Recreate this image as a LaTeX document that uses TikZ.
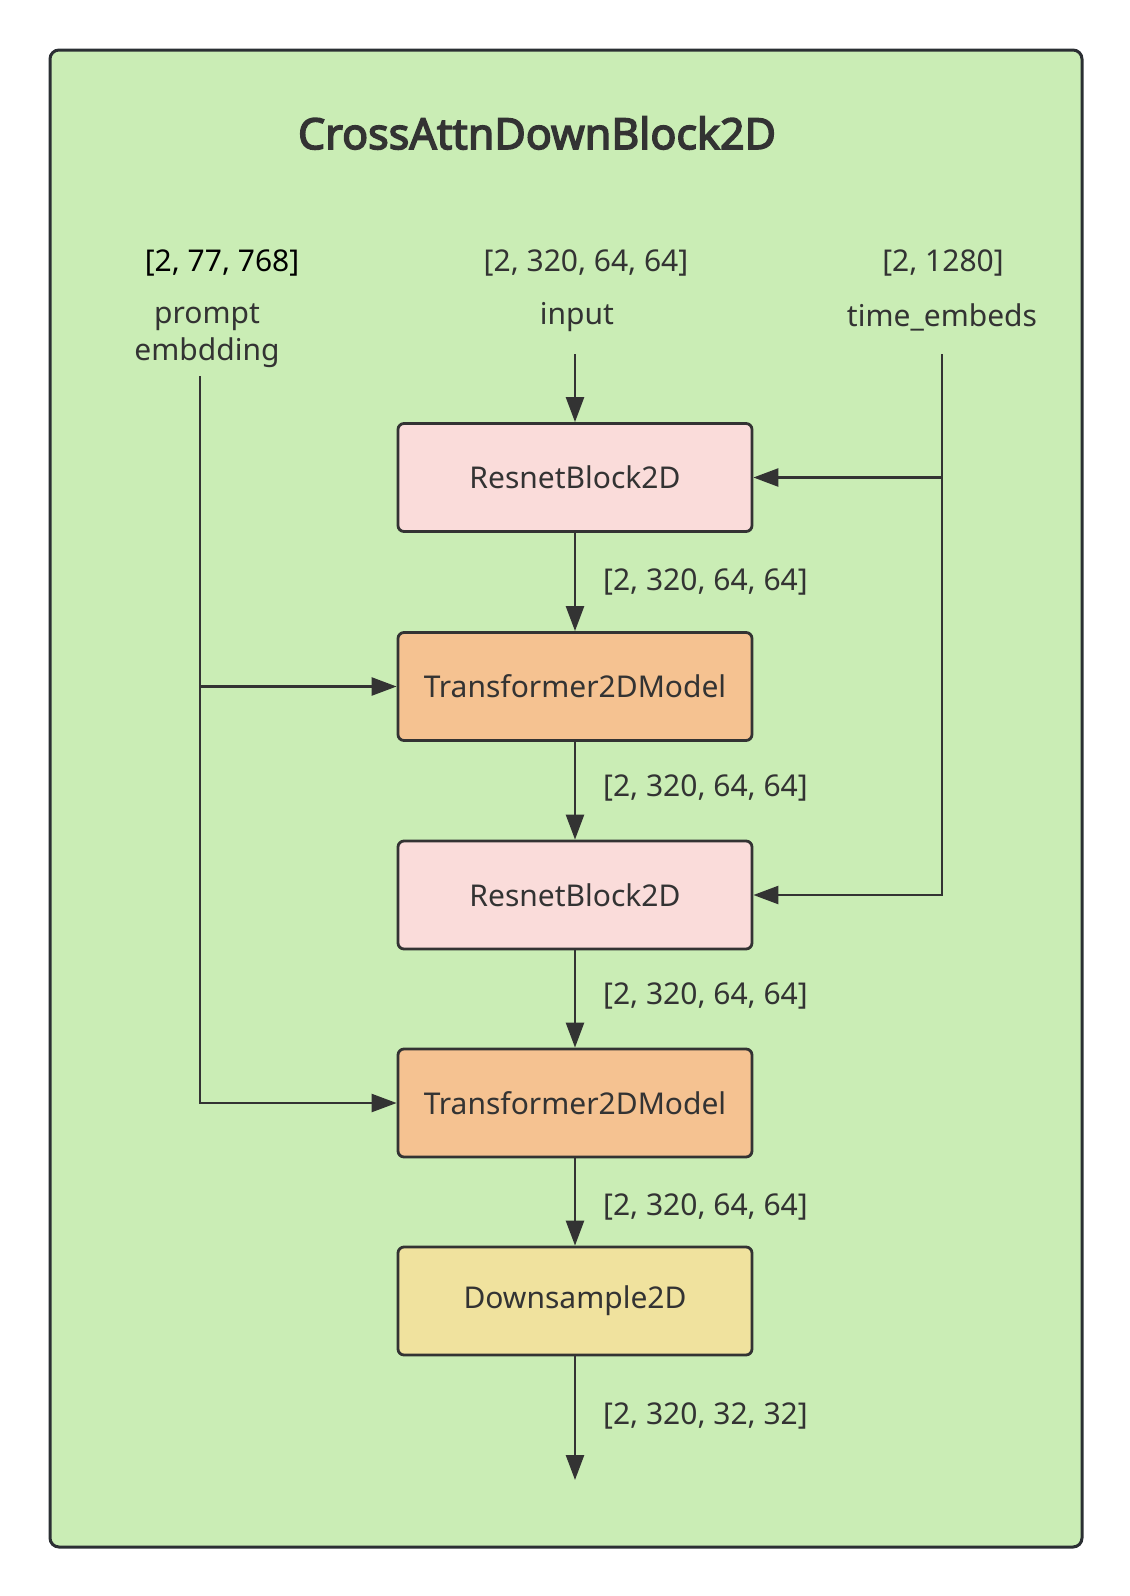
\documentclass[tikz,border=0pt]{standalone}
\usepackage{fontspec}
\setmainfont{Noto Sans}
\newfontfamily\titlefont{Noto Sans}[FakeBold=3.4]
\usetikzlibrary{arrows.meta}
\definecolor{framefill}{RGB}{202,237,181}
\definecolor{framedraw}{RGB}{43,47,51}
\definecolor{pinkc}{RGB}{250,220,218}
\definecolor{orangec}{RGB}{245,194,145}
\definecolor{yellowc}{RGB}{240,226,158}
\definecolor{linec}{RGB}{51,51,51}
\definecolor{txtc}{RGB}{51,51,51}
\tikzset{
  blk/.style={draw=linec, line width=2.8pt, rounded corners=6pt, minimum width=354pt, minimum height=108pt, inner sep=0pt, text=txtc, font=\fontsize{30}{36}\selectfont},
  lbl/.style={inner sep=0pt, text=txtc, font=\fontsize{30}{36}\selectfont},
  conn/.style={draw=linec, line width=2.5pt, -{Triangle[length=25pt,width=18pt]}},
  plainline/.style={draw=linec, line width=2.5pt}
}
\begin{document}
\begin{tikzpicture}[x=1pt,y=-1pt]
\useasboundingbox (0,0) rectangle (1130,1596);
\draw[fill=framefill, draw=framedraw, line width=3pt, rounded corners=9pt] (50,50) rectangle (1082,1547);
\node[inner sep=0pt, text=txtc, font=\titlefont\fontsize{43}{50}\selectfont] (title) at (537,133) {CrossAttnDownBlock2D};

\node[lbl, text=black] (pshape) at (222,263) {[2, 77, 768]};
\node[lbl, align=center, font=\fontsize{30}{37}\selectfont] (prompt) at (207,336) {prompt\\embdding};
\node[lbl] (ishape) at (586,263) {[2, 320, 64, 64]};
\node[lbl] (input) at (577,317) {input};
\node[lbl] (tshape) at (943,263) {[2, 1280]};
\node[lbl] (time) at (942,317) {time\_embeds};

\node[blk, fill=pinkc] (r1) at (575,477.5) {ResnetBlock2D};
\node[blk, fill=orangec] (t1) at (575,686.5) {Transformer2DModel};
\node[blk, fill=pinkc] (r2) at (575,895) {ResnetBlock2D};
\node[blk, fill=orangec] (t2) at (575,1103) {Transformer2DModel};
\node[blk, fill=yellowc] (d) at (575,1301) {Downsample2D};

\coordinate (pe) at (200,376);
\coordinate (in) at (575,354);
\coordinate (te) at (942,354);
\coordinate (out) at (575,1480);

\draw[conn] (in) -- (r1.north);
\draw[conn] (r1) -- (t1);
\draw[conn] (t1) -- (r2);
\draw[conn] (r2) -- (t2);
\draw[conn] (t2) -- (d);
\draw[conn] (d) -- (out);

\draw[conn] (te) |- (r2.east);
\draw[conn] (te |- r1.east) -- (r1.east);
\draw[conn] (pe) |- (t2.west);
\draw[conn] (pe |- t1.west) -- (t1.west);

\node[lbl, anchor=west] (l1) at (603,582) {[2, 320, 64, 64]};
\node[lbl, anchor=west] (l2) at (603,788) {[2, 320, 64, 64]};
\node[lbl, anchor=west] (l3) at (603,996) {[2, 320, 64, 64]};
\node[lbl, anchor=west] (l4) at (603,1207) {[2, 320, 64, 64]};
\node[lbl, anchor=west] (l5) at (603,1416) {[2, 320, 32, 32]};
\end{tikzpicture}
\end{document}
